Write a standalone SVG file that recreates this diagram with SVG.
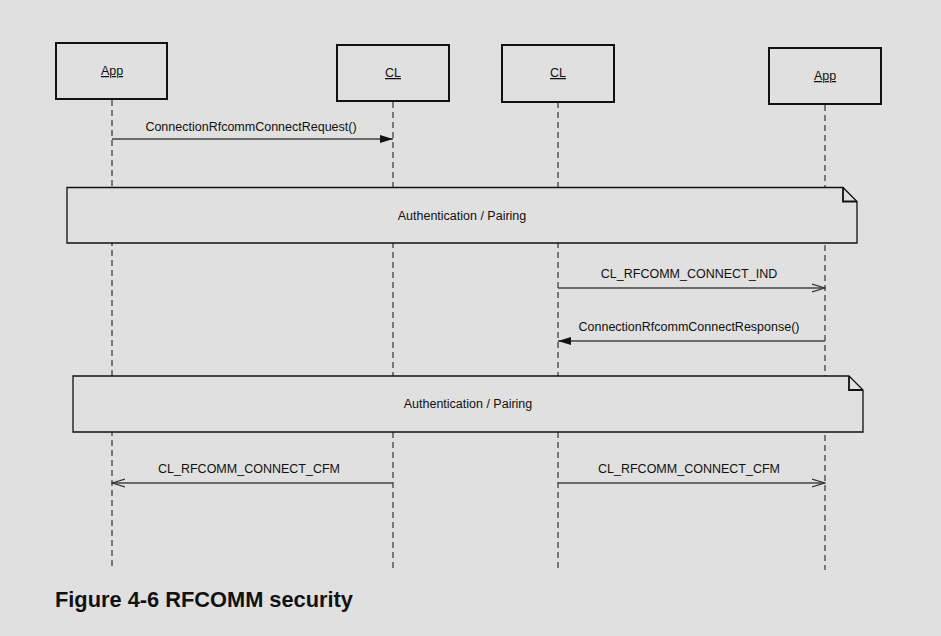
<svg xmlns="http://www.w3.org/2000/svg" width="941" height="636" viewBox="0 0 941 636">
<defs>
<style>
text{font-family:"Liberation Sans",Arial,sans-serif;fill:#111}
.lbl{font-size:12.5px;text-anchor:middle}
.name{font-size:12.5px;text-anchor:middle;text-decoration:underline}
.box{fill:#e0e0e0;stroke:#111;stroke-width:2}
.life{stroke:#555;stroke-width:1.5;stroke-dasharray:6,4;fill:none}
.msg{stroke:#444;stroke-width:1.3;fill:none}
.note{fill:#e0e0e0;stroke:#111;stroke-width:1.3}
.cap{font-size:21.8px;font-weight:bold}
</style>
<marker id="filled" markerWidth="14" markerHeight="10" refX="13" refY="5" orient="auto" markerUnits="userSpaceOnUse">
<path d="M0,1 L13,5 L0,9 Z" fill="#111"/>
</marker>
<marker id="open" markerWidth="14" markerHeight="10" refX="13" refY="5" orient="auto" markerUnits="userSpaceOnUse">
<path d="M0,1 L13,5 L0,9" fill="none" stroke="#333" stroke-width="1.2"/>
</marker>
</defs>
<rect width="941" height="636" fill="#e0e0e0"/>
<g id="lifelines">
<line class="life" x1="112" y1="100" x2="112" y2="568"/>
<line class="life" x1="393" y1="102" x2="393" y2="570"/>
<line class="life" x1="558" y1="102" x2="558" y2="570"/>
<line class="life" x1="825" y1="105" x2="825" y2="570"/>
</g>
<g id="node-app1">
<rect class="box" x="56" y="43" width="111" height="56"/>
<text class="name" x="112" y="75">App</text>
</g>
<g id="node-cl1">
<rect class="box" x="337" y="45" width="112" height="56"/>
<text class="name" x="393" y="77">CL</text>
</g>
<g id="node-cl2">
<rect class="box" x="502" y="45" width="112" height="57"/>
<text class="name" x="558" y="77">CL</text>
</g>
<g id="node-app2">
<rect class="box" x="769" y="48" width="112" height="56"/>
<text class="name" x="825" y="80">App</text>
</g>
<g id="connectors">
<line class="msg" x1="112" y1="139" x2="393" y2="139" marker-end="url(#filled)"/>
<text class="lbl" x="251" y="131">ConnectionRfcommConnectRequest()</text>
<line class="msg" x1="558" y1="288" x2="825" y2="288" marker-end="url(#open)"/>
<text class="lbl" x="689" y="278">CL_RFCOMM_CONNECT_IND</text>
<line class="msg" x1="825" y1="341" x2="558" y2="341" marker-end="url(#filled)"/>
<text class="lbl" x="689" y="331">ConnectionRfcommConnectResponse()</text>
<line class="msg" x1="393" y1="483" x2="112" y2="483" marker-end="url(#open)"/>
<text class="lbl" x="249" y="473">CL_RFCOMM_CONNECT_CFM</text>
<line class="msg" x1="558" y1="483" x2="825" y2="483" marker-end="url(#open)"/>
<text class="lbl" x="689" y="473">CL_RFCOMM_CONNECT_CFM</text>
</g>
<g id="note1">
<path class="note" d="M67,187.5 H843 L857,201.5 V243 H67 Z"/>
<path d="M843,187.5 V201.5 H857" fill="none" stroke="#111" stroke-width="1.8"/>
<text class="lbl" x="462" y="220">Authentication / Pairing</text>
</g>
<g id="note2">
<path class="note" d="M73,376 H849 L863,390 V432 H73 Z"/>
<path d="M849,376 V390 H863" fill="none" stroke="#111" stroke-width="1.8"/>
<text class="lbl" x="468" y="408">Authentication / Pairing</text>
</g>
<text class="cap" x="55" y="607">Figure 4-6 RFCOMM security</text>
</svg>
